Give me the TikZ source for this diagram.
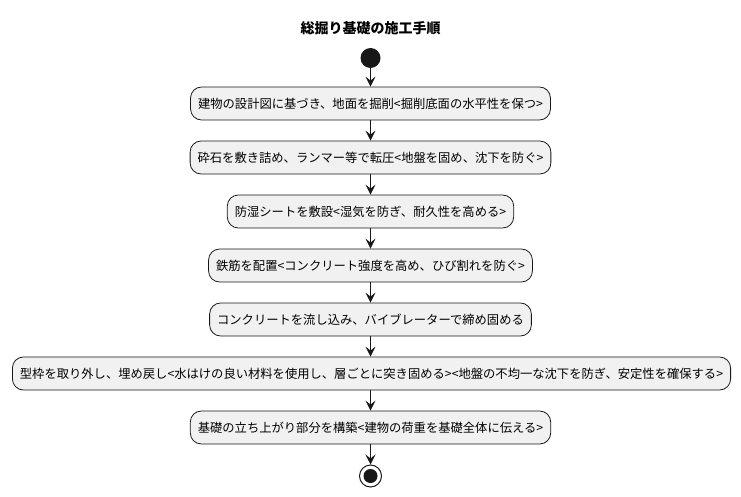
\documentclass[tikz,border=0pt]{standalone}
\usepackage{fontspec}
\usepackage{xcolor}
\usetikzlibrary{arrows.meta, positioning}
\setmainfont{Noto Sans CJK JP}

\definecolor{lineblk}{HTML}{181818}
\definecolor{actfill}{HTML}{F1F1F1}

\tikzset{
  action/.style={draw=lineblk, fill=actfill, rounded corners=11pt, line width=0.8pt,
    minimum height=33pt, inner xsep=7.5pt, font=\fontsize{12.3}{14}\selectfont},
  flow/.style={draw=lineblk, line width=0.9pt, -{Stealth[length=10pt,width=10pt,inset=4pt]}}
}

\begin{document}
\begin{tikzpicture}[x=1pt, y=1pt]
\useasboundingbox (0, 0) rectangle (741, -497);

\node[font=\fontsize{14}{16}\selectfont\bfseries] (title) at (370.5, -28) {総掘り基礎の施工手順};
\node[circle, fill=lineblk, minimum size=20pt, inner sep=0pt] (start) at (370.5, -58) {};

\node[action] (dig) at (370.5, -103.5) {建物の設計図に基づき、地面を掘削<掘削底面の水平性を保つ>};
\node[action] (gravel) at (370.5, -157.5) {砕石を敷き詰め、ランマー等で転圧<地盤を固め、沈下を防ぐ>};
\node[action] (sheet) at (370.5, -211.5) {防湿シートを敷設<湿気を防ぎ、耐久性を高める>};
\node[action] (rebar) at (370.5, -265.5) {鉄筋を配置<コンクリート強度を高め、ひび割れを防ぐ>};
\node[action] (pour) at (370.5, -319.5) {コンクリートを流し込み、バイブレーターで締め固める};
\node[action] (backfill) at (371.5, -373.5) {型枠を取り外し、埋め戻し<水はけの良い材料を使用し、層ごとに突き固める><地盤の不均一な沈下を防ぎ、安定性を確保する>};
\node[action] (rise) at (370.5, -427.5) {基礎の立ち上がり部分を構築<建物の荷重を基礎全体に伝える>};

\node[circle, draw=lineblk, line width=1pt, minimum size=22pt, inner sep=0pt] (stop) at (370.5, -476) {};
\node[circle, fill=lineblk, minimum size=14pt, inner sep=0pt] (stopdot) at (stop) {};

\draw[flow] (start) -- (dig);
\draw[flow] (dig) -- (gravel);
\draw[flow] (gravel) -- (sheet);
\draw[flow] (sheet) -- (rebar);
\draw[flow] (rebar) -- (pour);
\draw[flow] (pour) -- (pour |- backfill.north);
\draw[flow] (pour |- backfill.south) -- (rise);
\draw[flow] (rise) -- (stop);
\end{tikzpicture}
\end{document}
